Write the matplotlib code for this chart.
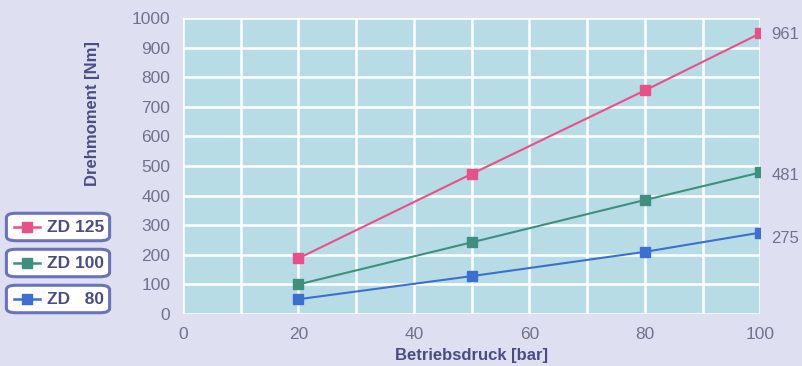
import matplotlib.pyplot as plt
from matplotlib.patches import FancyBboxPatch
from matplotlib.lines import Line2D

# data
pressure = [20, 50, 80, 100]
zd125 = [188, 473, 755, 948]
zd100 = [100, 242, 385, 478]
zd80 = [50, 128, 210, 275]
series_names = ["ZD 125", "ZD 100", "ZD   80"]
end_labels = ["961", "481", "275"]

colors = ["#e8508a", "#3f8f7e", "#3d6fd0"]
text_col = "#72728c"
label_col = "#4a4c86"
font = ["Liberation Sans", "DejaVu Sans"]

fig = plt.figure(figsize=(8.02, 3.66), dpi=100)
fig.patch.set_facecolor("#dee0f1")
ax = fig.add_axes([0.228, 0.142, 0.72, 0.809])
ax.set_facecolor("#b7dce5")

for vals, c in zip([zd125, zd100, zd80], colors):
    ax.plot(pressure, vals, color=c, lw=1.5, marker="s", ms=7, zorder=3)

ax.set_xlim(0, 100)
ax.set_ylim(0, 1000)
ax.set_xticks(range(0, 101, 10))
ax.set_yticks(range(0, 1001, 100))
ax.grid(True, color="white", lw=1.8)
ax.set_axisbelow(True)
for s in ax.spines.values():
    s.set_visible(False)
ax.tick_params(length=0, colors=text_col, labelsize=12.5, pad=9)
ax.set_xticklabels([str(v) if v % 20 == 0 else "" for v in range(0, 101, 10)],
                   fontfamily=font)
ax.set_yticklabels([str(v) for v in range(0, 1001, 100)], fontfamily=font)

# value labels to the right of the last points
for vals, lab, dy in zip([zd125, zd100, zd80], end_labels, [-1, -2, -4]):
    ax.annotate(lab, (100, vals[-1]), xytext=(8, dy), textcoords="offset points",
                va="center", ha="left", color=text_col, fontsize=12,
                fontfamily=font, annotation_clip=False)

fig.text(0.115, 0.69, "Drehmoment [Nm]", rotation=90, ha="center", va="center",
         color=label_col, fontsize=12, fontweight="bold", fontfamily=font)
fig.text(0.588, 0.028, "Betriebsdruck [bar]", ha="center", va="center",
         color=label_col, fontsize=12, fontweight="bold", fontfamily=font)

# legend boxes on the left
box_tops = [212, 248, 284]
for top, name, c in zip(box_tops, series_names, colors):
    y0 = 1 - (top + 28) / 366
    h = 26 / 366
    box = FancyBboxPatch((8 / 802, y0), 100 / 802, h,
                         boxstyle="round,pad=0.002,rounding_size=0.012",
                         transform=fig.transFigure, facecolor="white",
                         edgecolor="#6b72bd", lw=2.2)
    fig.patches.append(box)
    ym = y0 + h / 2
    fig.lines.append(Line2D([14 / 802, 40 / 802], [ym, ym], color=c, lw=1.8,
                            transform=fig.transFigure))
    fig.lines.append(Line2D([27 / 802], [ym], color=c, marker="s", ms=7,
                            transform=fig.transFigure))
    fig.text(47 / 802, ym, name, ha="left", va="center", color=label_col,
             fontsize=12.5, fontweight="bold", fontfamily=font)

fig.savefig("out.png", dpi=100, facecolor=fig.get_facecolor())
